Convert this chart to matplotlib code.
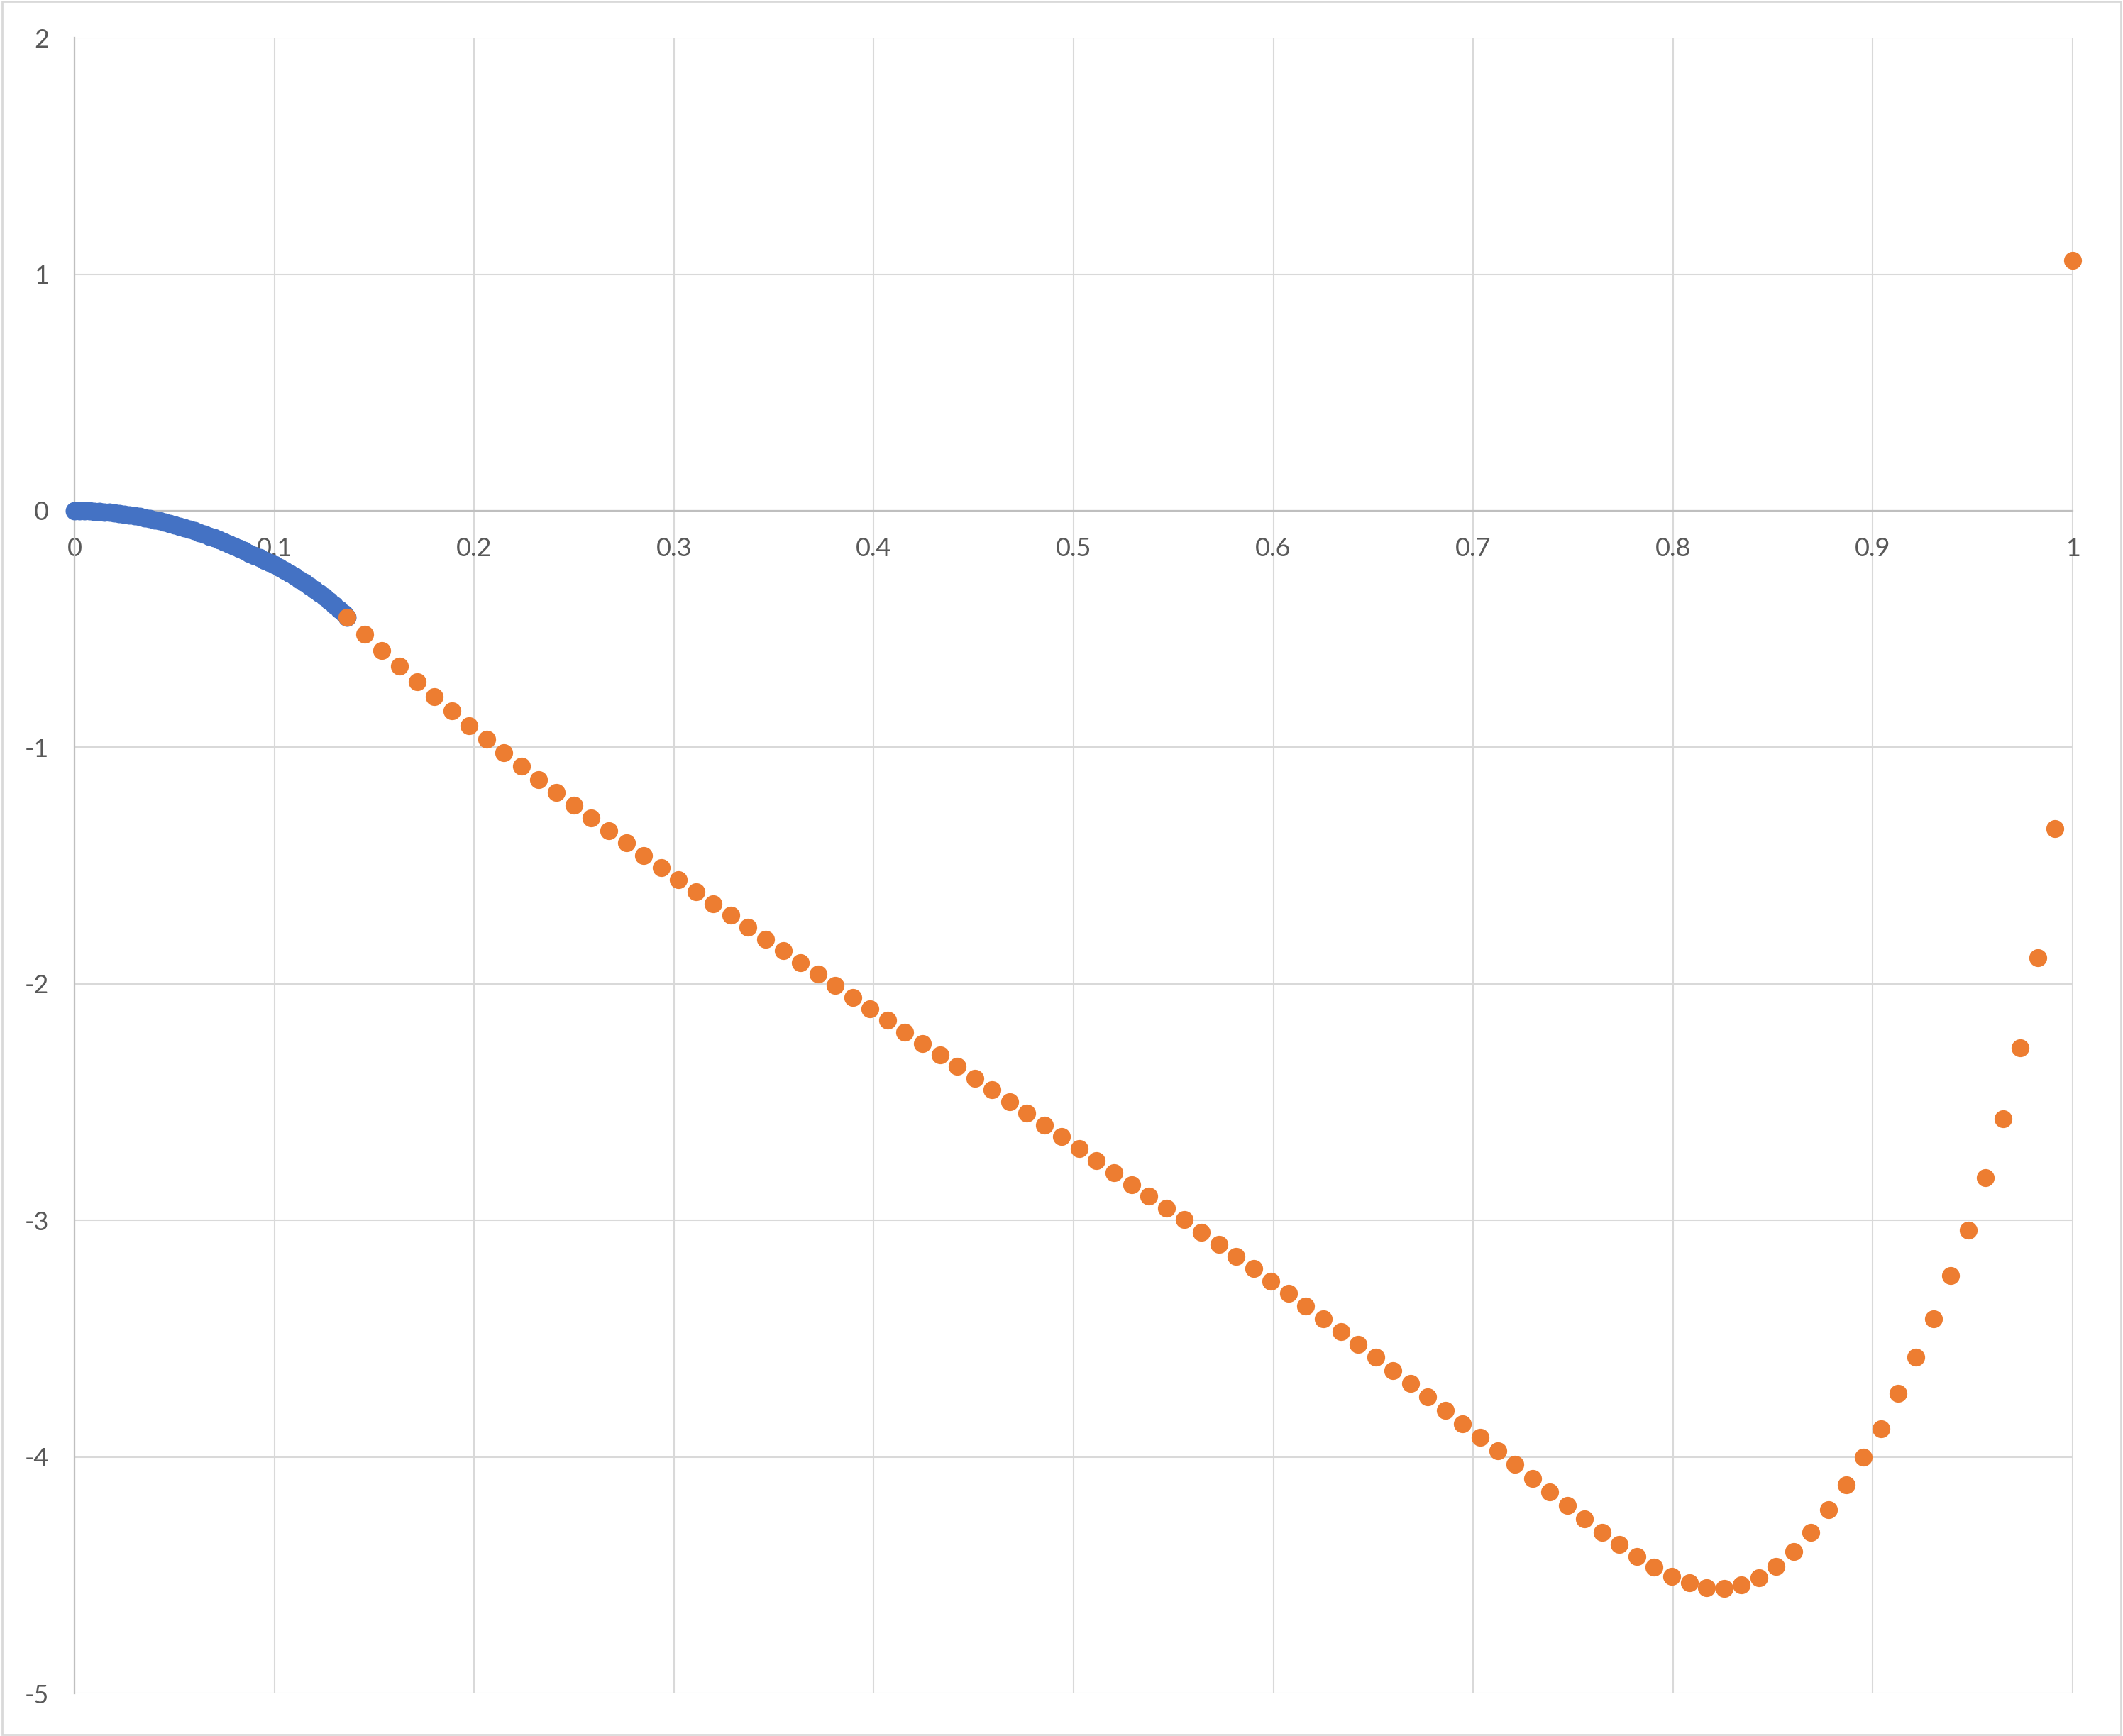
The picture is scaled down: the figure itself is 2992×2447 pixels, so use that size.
"""Scatter chart of two series (dense blue curve + sparse orange points), Excel style."""

from __future__ import annotations

import matplotlib

matplotlib.use("Agg")

import matplotlib.pyplot as plt
from matplotlib.patches import Rectangle
from matplotlib.ticker import FixedLocator, FuncFormatter

# Blue series: dense points.
BLUE_X = [
    0.0000, 0.0025, 0.0050, 0.0075, 0.0100, 0.0125, 0.0150, 0.0175, 0.0200, 0.0225,
    0.0250, 0.0275, 0.0300, 0.0325, 0.0350, 0.0375, 0.0400, 0.0425, 0.0450, 0.0475,
    0.0500, 0.0525, 0.0550, 0.0575, 0.0600, 0.0625, 0.0650, 0.0675, 0.0700, 0.0725,
    0.0750, 0.0775, 0.0800, 0.0825, 0.0850, 0.0875, 0.0900, 0.0925, 0.0950, 0.0975,
    0.1000, 0.1025, 0.1050, 0.1075, 0.1100, 0.1125, 0.1150, 0.1175, 0.1200, 0.1225,
    0.1250, 0.1275, 0.1300, 0.1325, 0.1350, 0.1365,
]
BLUE_Y = [
    0.000, -0.000, -0.001, -0.001, -0.002, -0.004, -0.005, -0.007, -0.009, -0.012,
    -0.015, -0.018, -0.021, -0.025, -0.029, -0.033, -0.038, -0.043, -0.048, -0.053,
    -0.059, -0.065, -0.071, -0.078, -0.085, -0.092, -0.099, -0.107, -0.115, -0.123,
    -0.132, -0.141, -0.150, -0.160, -0.169, -0.179, -0.189, -0.199, -0.209, -0.219,
    -0.229, -0.240, -0.252, -0.264, -0.277, -0.290, -0.304, -0.318, -0.333, -0.348,
    -0.364, -0.381, -0.398, -0.416, -0.436, -0.450,
]

# Orange series: 100 points from x ~ 0.1365 up to 1.
ORANGE_X = [
    0.1365, 0.1452, 0.1539, 0.1627, 0.1714, 0.1801, 0.1888, 0.1976, 0.2063, 0.2150,
    0.2237, 0.2324, 0.2412, 0.2499, 0.2586, 0.2673, 0.2761, 0.2848, 0.2935, 0.3022,
    0.3109, 0.3197, 0.3284, 0.3371, 0.3458, 0.3546, 0.3633, 0.3720, 0.3807, 0.3894,
    0.3982, 0.4069, 0.4156, 0.4243, 0.4331, 0.4418, 0.4505, 0.4592, 0.4679, 0.4767,
    0.4854, 0.4941, 0.5028, 0.5115, 0.5203, 0.5290, 0.5377, 0.5464, 0.5552, 0.5639,
    0.5726, 0.5813, 0.5900, 0.5988, 0.6075, 0.6162, 0.6249, 0.6337, 0.6424, 0.6511,
    0.6598, 0.6685, 0.6773, 0.6860, 0.6947, 0.7034, 0.7122, 0.7209, 0.7296, 0.7383,
    0.7470, 0.7558, 0.7645, 0.7732, 0.7819, 0.7906, 0.7994, 0.8081, 0.8168, 0.8255,
    0.8343, 0.8430, 0.8517, 0.8604, 0.8691, 0.8779, 0.8866, 0.8953, 0.9040, 0.9127,
    0.9215, 0.9302, 0.9389, 0.9476, 0.9564, 0.9651, 0.9738, 0.9825, 0.9912, 1.0000,
]
ORANGE_Y = [
    -0.450, -0.522, -0.592, -0.657, -0.724, -0.787, -0.847, -0.910, -0.967, -1.024,
    -1.080, -1.136, -1.191, -1.245, -1.299, -1.353, -1.404, -1.458, -1.509, -1.560,
    -1.611, -1.662, -1.710, -1.761, -1.812, -1.860, -1.911, -1.959, -2.007, -2.058,
    -2.106, -2.154, -2.205, -2.253, -2.301, -2.350, -2.400, -2.449, -2.499, -2.547,
    -2.596, -2.646, -2.697, -2.746, -2.797, -2.848, -2.896, -2.947, -2.996, -3.049,
    -3.101, -3.152, -3.204, -3.257, -3.308, -3.362, -3.416, -3.470, -3.524, -3.578,
    -3.635, -3.690, -3.747, -3.804, -3.861, -3.918, -3.975, -4.032, -4.092, -4.148,
    -4.205, -4.263, -4.320, -4.371, -4.422, -4.467, -4.506, -4.533, -4.552, -4.555,
    -4.542, -4.512, -4.464, -4.401, -4.320, -4.224, -4.118, -4.002, -3.880, -3.730,
    -3.577, -3.416, -3.233, -3.040, -2.820, -2.570, -2.270, -1.890, -1.345, 1.060,
]

X_TICKS = [0, 0.1, 0.2, 0.3, 0.4, 0.5, 0.6, 0.7, 0.8, 0.9, 1]
Y_TICKS = [-5, -4, -3, -2, -1, 0, 1, 2]

BLUE = "#4472C4"
ORANGE = "#ED7D31"
GRID = "#D9D9D9"
AXIS = "#BFBFBF"
LABEL = "#595959"


def excel_label(value: float, _pos: int) -> str:
    """Format tick values like Excel: plain hyphen minus, no trailing zeros."""
    return f"{value:g}"


def main() -> int:
    plt.rcParams["font.family"] = ["Lato", "DejaVu Sans"]

    fig = plt.figure(figsize=(29.92, 24.47), dpi=100)
    ax = fig.add_axes([0.0351, 0.0245, 0.9412, 0.9538])

    ax.scatter(BLUE_X, BLUE_Y, s=350, color=BLUE, linewidths=0, zorder=3, clip_on=False)
    ax.scatter(ORANGE_X, ORANGE_Y, s=330, color=ORANGE, linewidths=0, zorder=4, clip_on=False)

    ax.set_xlim(0, 1)
    ax.set_ylim(-5, 2)
    ax.xaxis.set_major_locator(FixedLocator(X_TICKS))
    ax.yaxis.set_major_locator(FixedLocator(Y_TICKS))
    ax.xaxis.set_major_formatter(FuncFormatter(excel_label))
    ax.yaxis.set_major_formatter(FuncFormatter(excel_label))

    ax.grid(True, color=GRID, linewidth=1.5, zorder=0)
    ax.set_axisbelow(True)

    for side in ("top", "right"):
        ax.spines[side].set_visible(False)
    ax.spines["bottom"].set_position(("data", 0))
    ax.spines["bottom"].set_color(AXIS)
    ax.spines["bottom"].set_linewidth(1.6)
    ax.spines["left"].set_color(AXIS)
    ax.spines["left"].set_linewidth(1.6)

    ax.tick_params(axis="both", length=0, labelsize=26, labelcolor=LABEL)
    ax.tick_params(axis="x", pad=27)
    ax.tick_params(axis="y", pad=26)

    # Light chart-area border like Excel's.
    fig.patches.append(
        Rectangle(
            (0.001, 0.001), 0.998, 0.998,
            transform=fig.transFigure, fill=False,
            edgecolor=GRID, linewidth=2,
        )
    )

    fig.savefig("out.png", dpi=100, facecolor="white")
    return 0


if __name__ == "__main__":
    raise SystemExit(main())
